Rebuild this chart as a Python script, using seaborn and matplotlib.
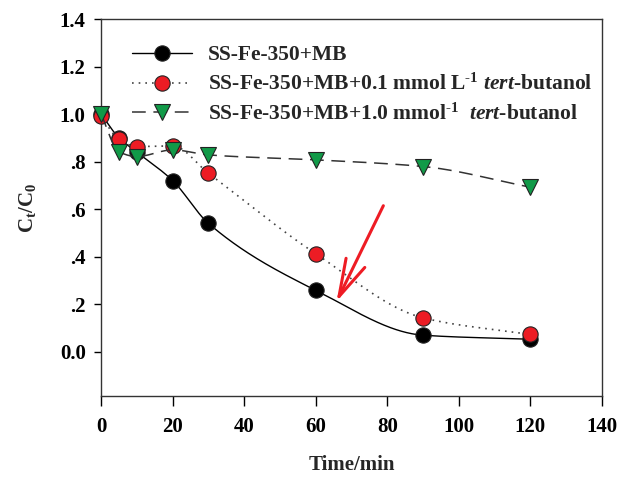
import numpy as np
import matplotlib
matplotlib.use("Agg")
import matplotlib.pyplot as plt
import seaborn as sns
from matplotlib.lines import Line2D

# ---- data ----
time_min = [0, 5, 10, 20, 30, 60, 90, 120]
mb_only = [1.00, 0.90, 0.84, 0.72, 0.54, 0.258, 0.069, 0.052]
mb_tba_01 = [0.99, 0.894, 0.863, 0.866, 0.751, 0.412, 0.142, 0.072]
mb_tba_10 = [1.00, 0.841, 0.821, 0.849, 0.828, 0.807, 0.779, 0.692]
labels = [
    "SS-Fe-350+MB",
    "SS-Fe-350+MB+0.1 mmol L$^{\\text{-1}}$ $\\it{tert}$-butanol",
    "SS-Fe-350+MB+1.0 mmol$^{\\text{-1}}$  $\\it{tert}$-butanol",
]
xticks = [0, 20, 40, 60, 80, 100, 120, 140]
yticks = [0.0, 0.2, 0.4, 0.6, 0.8, 1.0, 1.2, 1.4]
yticklabels = ["0.0", ".2", ".4", ".6", ".8", "1.0", "1.2", "1.4"]


def pchip(x, y, xn):
    x = np.asarray(x, float); y = np.asarray(y, float)
    h = np.diff(x); d = np.diff(y) / h
    n = len(x); m = np.zeros(n)
    for k in range(1, n - 1):
        if d[k - 1] * d[k] <= 0:
            m[k] = 0.0
        else:
            w1 = 2 * h[k] + h[k - 1]; w2 = h[k] + 2 * h[k - 1]
            m[k] = (w1 + w2) / (w1 / d[k - 1] + w2 / d[k])
    m[0] = d[0]; m[-1] = d[-1]
    out = np.empty_like(xn)
    idx = np.clip(np.searchsorted(x, xn) - 1, 0, n - 2)
    for i, xv in enumerate(xn):
        k = idx[i]; t = (xv - x[k]) / h[k]
        h00 = 2 * t**3 - 3 * t**2 + 1; h10 = t**3 - 2 * t**2 + t
        h01 = -2 * t**3 + 3 * t**2; h11 = t**3 - t**2
        out[i] = h00 * y[k] + h10 * h[k] * m[k] + h01 * y[k + 1] + h11 * h[k] * m[k + 1]
    return out


sns.set_style("ticks")
plt.rcParams["font.family"] = ["Liberation Serif", "DejaVu Serif"]
plt.rcParams["font.weight"] = "bold"
plt.rcParams["mathtext.fontset"] = "custom"
plt.rcParams["mathtext.rm"] = "Liberation Serif:bold"
plt.rcParams["mathtext.it"] = "Liberation Serif:italic:bold"
plt.rcParams["mathtext.bf"] = "Liberation Serif:bold"

fig = plt.figure(figsize=(6.2, 4.78), dpi=100)
ax = fig.add_axes([101 / 620, 1 - 396 / 478, (602 - 101) / 620, (396 - 19) / 478])

red = "#EC1C24"
green = "#119A48"
styles = [
    dict(color="black", ls="-", lw=1.0, face="black", marker="o", ms=11),
    dict(color="#444444", ls=(0, (1, 3)), lw=1.2, face=red, marker="o", ms=11),
    dict(color="#333333", ls=(0, (9, 5)), lw=1.1, face=green, marker="v", ms=11),
]
series = [mb_only, mb_tba_01, mb_tba_10]
xd = np.linspace(0, 120, 400)
handles = []
for i, (ys, st) in enumerate(zip(series, styles)):
    yd = pchip(time_min, ys, xd)
    sns.lineplot(x=xd, y=yd, ax=ax, color=st["color"], linestyle=st["ls"],
                 lw=st["lw"], zorder=2 + 2 * i, clip_on=False)
    ax.plot(time_min, ys, linestyle="none", marker=st["marker"], ms=st["ms"],
            mfc=st["face"], mec="#222222", mew=0.8, zorder=3 + 2 * i, clip_on=False)
    handles.append(Line2D([], [], color=st["color"], linestyle=st["ls"], lw=st["lw"],
                          marker=st["marker"], ms=st["ms"], mfc=st["face"],
                          mec="#222222", mew=0.8))

ax.set_xlim(0, 140)
ax.set_ylim(-0.187, 1.4)
ax.set_xticks(xticks)
ax.set_xticklabels([str(t) for t in xticks])
ax.set_yticks(yticks)
ax.set_yticklabels(yticklabels)
ax.tick_params(axis="both", direction="out", length=5, width=1, labelsize=15, colors="black")
ax.tick_params(axis="x", length=7, pad=8)
ax.tick_params(axis="y", pad=6)
for s in ax.spines.values():
    s.set_visible(True)
    s.set_linewidth(1.0)
    s.set_color("#333333")

ax.set_xlabel("Time/min", fontsize=15, fontweight="bold", labelpad=13)
ax.set_ylabel("C$_{\\mathrm{t}}$/C$_{\\mathrm{0}}$", fontsize=15, fontweight="bold", labelpad=16)

ax.legend(handles, labels, loc="upper left", bbox_to_anchor=(0.045, 0.953),
          frameon=False, fontsize=15.5, handlelength=2.8, handletextpad=0.7,
          labelspacing=0.4, borderaxespad=0)

ax.annotate("", xy=(65.8, 0.21), xytext=(78.9, 0.614),
            arrowprops=dict(arrowstyle="->,head_length=2.7,head_width=0.75",
                            color="#EE1C24", lw=2.2, shrinkA=0, shrinkB=0,
                            mutation_scale=10), zorder=10)

fig.savefig("out.png", dpi=100)
